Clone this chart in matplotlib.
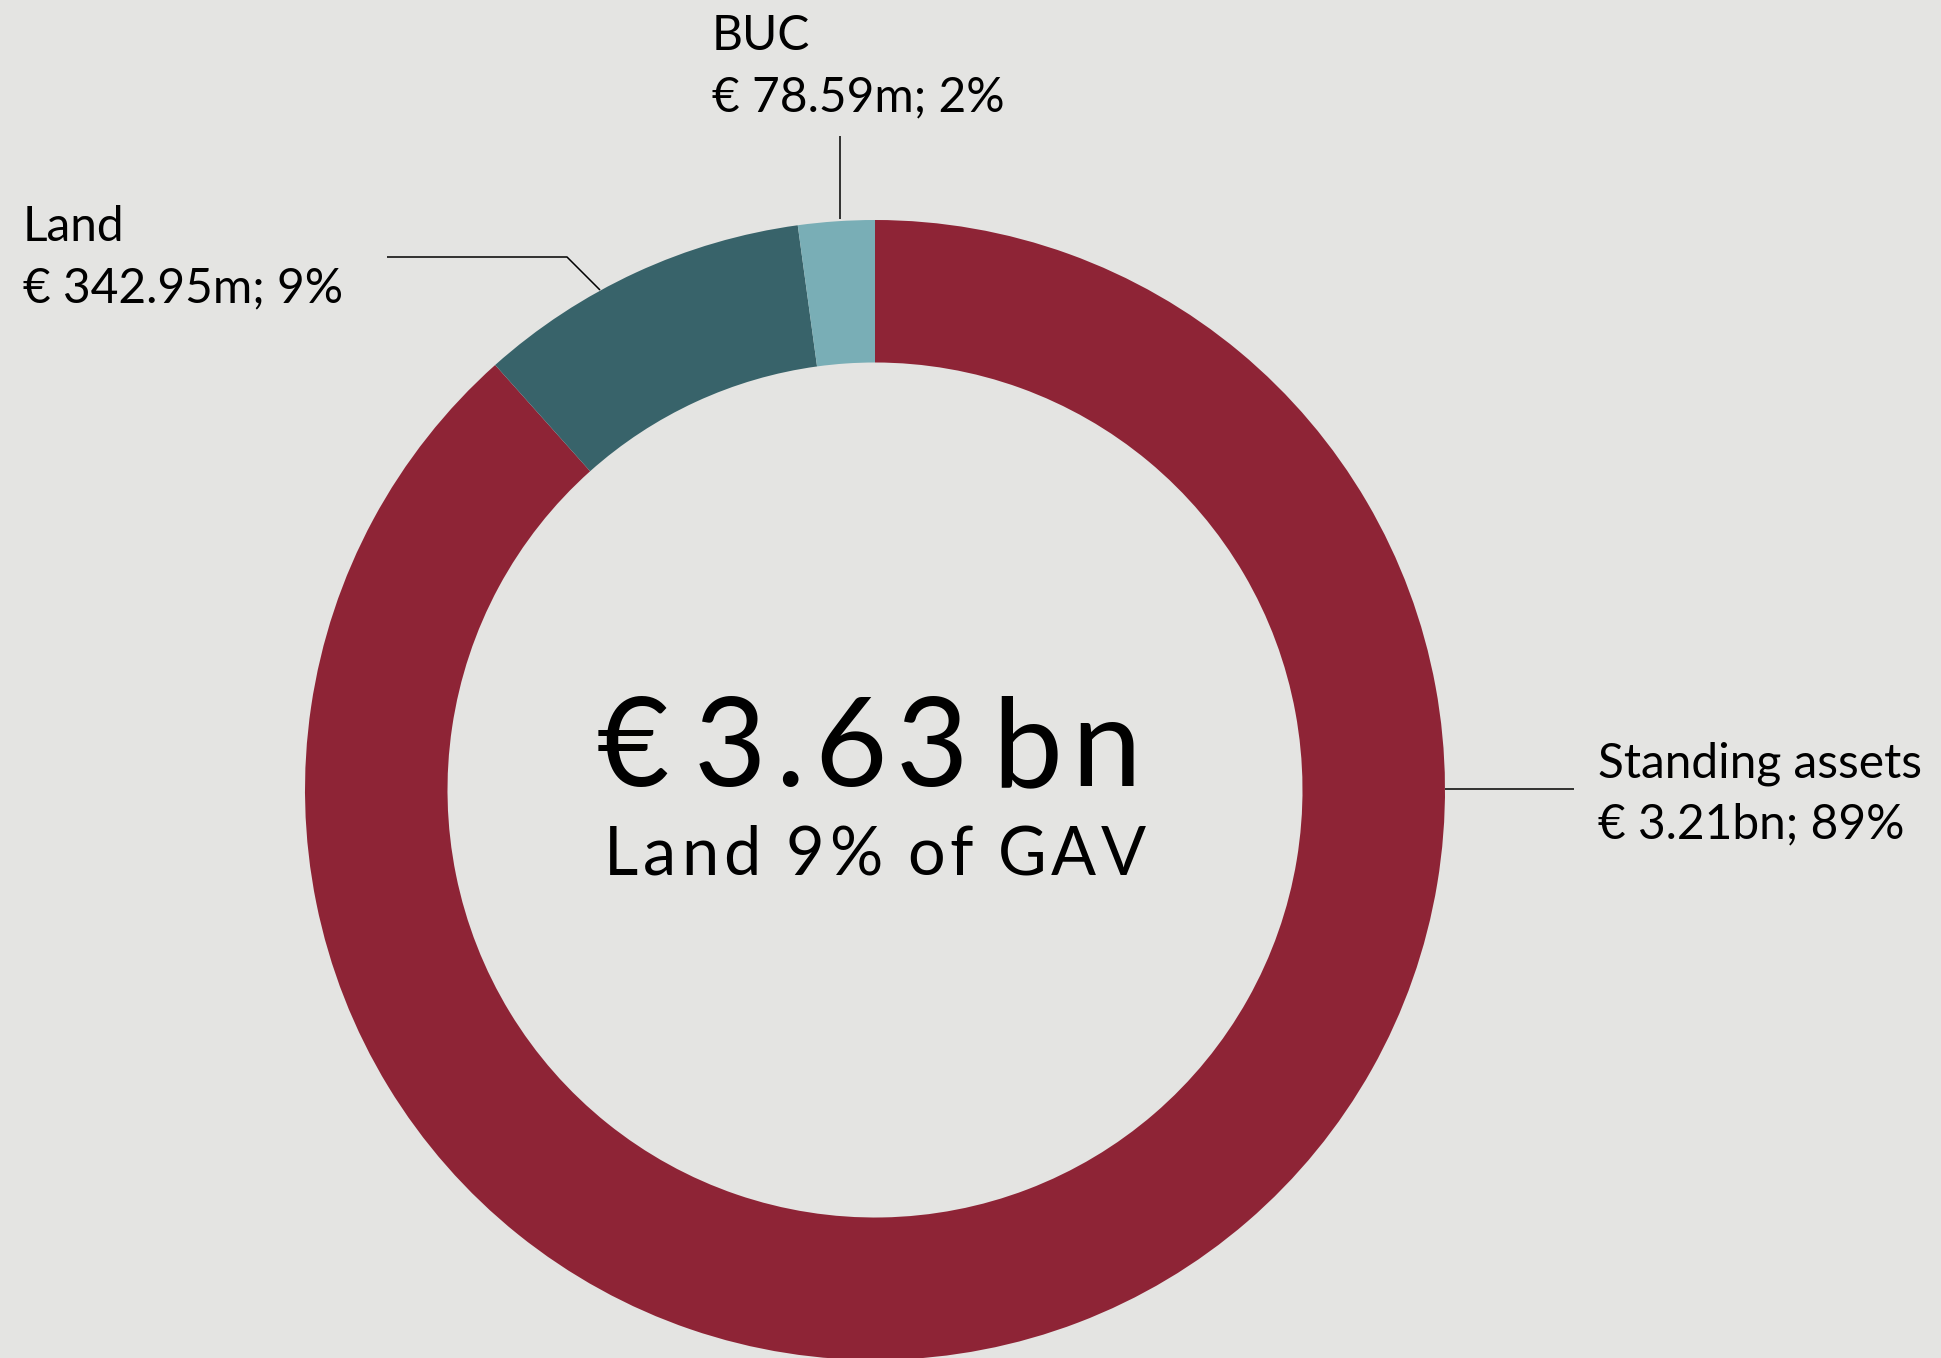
import matplotlib
matplotlib.use("Agg")
import matplotlib.pyplot as plt
from matplotlib.font_manager import FontProperties

# asset split of gross asset value, € millions
labels = ["Standing assets", "Land", "BUC"]
values = [3210.0, 342.95, 78.59]
value_text = ["€ 3.21bn; 89%", "€ 342.95m; 9%", "€ 78.59m; 2%"]
total_text = "€ 3.63 bn"
sub_text = "Land 9% of GAV"

COLS = ["#8E2436", "#38636A", "#79AEB6"]
BG = "#E4E4E2"
FONT = ["Lato", "DejaVu Sans"]

W, H = 1941, 1358
fig = plt.figure(figsize=(W / 100, H / 100), dpi=100, facecolor=BG)
ax = fig.add_axes([0, 0, 1, 1])
ax.set_facecolor(BG)


def Y(py):
    # pixel rows measured from the top
    return H - py


cx, cy, R = 875, 790, 570
ax.pie(values, colors=COLS, startangle=90, counterclock=False,
       center=(cx, Y(cy)), radius=R,
       wedgeprops=dict(width=R * 0.25, linewidth=0))
ax.set_xlim(0, W)
ax.set_ylim(0, H)
ax.set_aspect("equal")
ax.axis("off")

# leader lines
lk = dict(color="black", lw=1.1, solid_capstyle="butt")
ax.plot([1445, 1574], [Y(789), Y(789)], **lk)
ax.plot([387, 567, 600], [Y(257), Y(257), Y(290)], **lk)
ax.plot([840, 840], [Y(136), Y(219)], **lk)

fs = 34.5
side = [(1598, 777), (23, 241), (712, 50)]
for (x, by), name, vt in zip(side, labels, value_text):
    ax.text(x, Y(by), name, ha="left", va="baseline", fontsize=fs, family=FONT)
    ax.text(x, Y(by + 61), vt, ha="left", va="baseline", fontsize=fs, family=FONT)


renderer = fig.canvas.get_renderer()


def tracked(xc, by, s, size, track, space_em=0.22):
    # letter-spaced text, centred on xc
    prop = FontProperties(family=FONT, size=size)
    adv = []
    for ch in s:
        if ch == " ":
            adv.append(size * 100 / 72 * space_em)
        else:
            adv.append(renderer.get_text_width_height_descent(ch, prop, ismath=False)[0])
    total = sum(adv) + track * (len(s) - 1)
    x = xc - total / 2
    for ch, a in zip(s, adv):
        if ch != " ":
            ax.text(x, Y(by), ch, ha="left", va="baseline", fontproperties=prop)
        x += a + track


tracked(869, 786, total_text, 90, 9, space_em=0.05)
tracked(875, 875, sub_text, 48, 5)

fig.savefig("out.png", dpi=100, facecolor=BG)
